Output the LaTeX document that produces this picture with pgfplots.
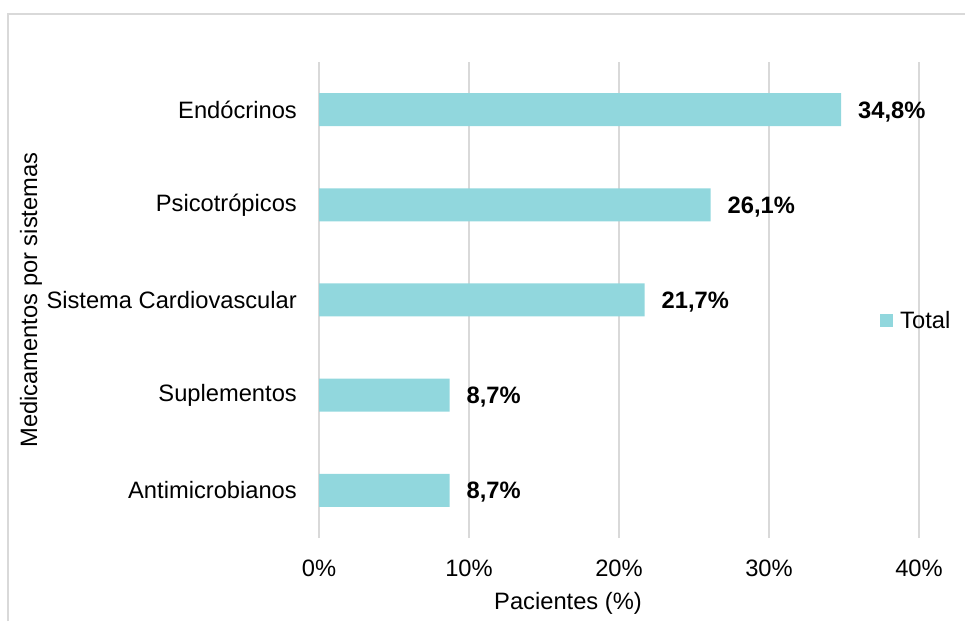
\documentclass[border=0pt]{standalone}
\usepackage{pgfplots}
\pgfplotsset{compat=1.18}
\usepackage{fontspec}
\setmainfont{Liberation Sans}
\definecolor{barc}{HTML}{91D7DD}
\definecolor{gridc}{HTML}{D9D9D9}
\begin{document}
\begin{tikzpicture}[x=1pt,y=1pt]
\useasboundingbox (0,0) rectangle (965,621);
\draw[gridc, line width=1.2pt] (8,0) -- (8,607) -- (966,607);
\begin{axis}[
  at={(319pt,83pt)}, anchor=south west,
  scale only axis, width=600pt, height=476pt,
  xbar, bar width=33pt,
  xmin=0, xmax=40, ymin=-0.5, ymax=4.5,
  xtick={0,10,20,30,40},
  ytick={0,1,2,3,4},
  yticklabels={Antimicrobianos,Suplementos,Sistema Cardiovascular,Psicotrópicos,Endócrinos},
  xticklabel={\pgfmathprintnumber{\tick}\%},
  /pgf/number format/assume math mode=true,
  font=\fontsize{23.7}{28}\selectfont,
  major tick length=0pt,
  axis line style={draw=none},
  xmajorgrids, grid style={gridc, line width=1.2pt},
  xticklabel style={inner sep=0pt, yshift=-22pt},
  yticklabel style={inner sep=0pt, xshift=-22pt},
  xlabel={Pacientes (\%)},
  xlabel style={at={(axis description cs:0.415,0)}, anchor=center, yshift=-65pt},
  ylabel={Medicamentos por sistemas},
  ylabel style={at={(axis description cs:-0.48,0.5)}, anchor=center},
  nodes near coords={\pgfmathprintnumber[fixed,fixed zerofill,precision=1,use comma]{\pgfplotspointmeta}\%},
  nodes near coords style={font=\fontsize{23.7}{28}\selectfont\bfseries, anchor=west, inner sep=0pt, xshift=17pt, yshift=-2pt},
  legend style={draw=none, fill=none, at={(0.935,0.456)}, anchor=west, inner sep=0pt,
    font=\fontsize{23.7}{28}\selectfont, /tikz/every odd column/.append style={column sep=5pt}},
  legend image code/.code={\fill[barc] (0pt,-6.5pt) rectangle (13pt,6.5pt);},
]
\addplot[fill=barc, draw=none] coordinates {(8.7,0) (8.7,1) (21.7,2) (26.1,3) (34.8,4)};
\addlegendentry{Total}
\end{axis}
\end{tikzpicture}
\end{document}
